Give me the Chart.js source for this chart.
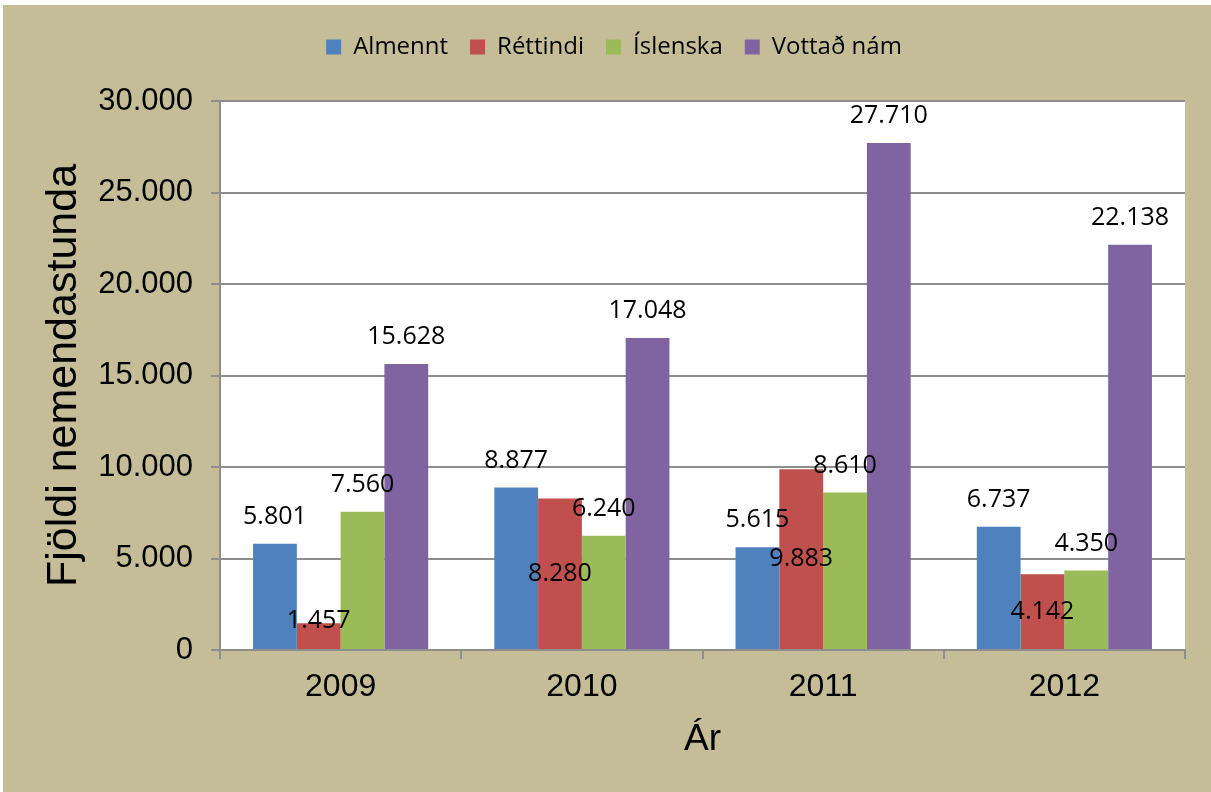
<!DOCTYPE html>
<html>
<head>
<meta charset="utf-8">
<script src="https://cdn.jsdelivr.net/npm/chart.js@4"></script>
<style>
  html, body { margin: 0; padding: 0; background: #ffffff; }
  #wrap { position: absolute; left: 3px; top: 5px; width: 1208px; height: 787px; }
  #myChart { background: #C4BD97; }
</style>
</head>
<body>
<div id="wrap"><canvas id="myChart" width="1208" height="787"></canvas></div>
<script>
var years = ['2009', '2010', '2011', '2012'];
var seriesNames = ['Almennt', 'Réttindi', 'Íslenska', 'Vottað nám'];
var almennt = [5801, 8877, 5615, 6737];
var rettindi = [1457, 8280, 9883, 4142];
var islenska = [7560, 6240, 8610, 4350];
var vottadNam = [15628, 17048, 27710, 22138];
var seriesColors = ['#4F81BD', '#C0504D', '#9BBB59', '#8064A2'];
var yTicks = [0, 5000, 10000, 15000, 20000, 25000, 30000];

// 30000 -> "30.000"
function fmt(v) {
    return String(v).replace(/\B(?=(\d{3})+(?!\d))/g, '.');
}

var ctx = document.getElementById('myChart').getContext('2d');

// white plot area
var plotBg = {
    id: 'plotBg',
    beforeDraw: function (chart) {
        var a = chart.chartArea;
        chart.ctx.save();
        chart.ctx.fillStyle = '#ffffff';
        chart.ctx.fillRect(a.left, a.top, a.right - a.left, a.bottom - a.top);
        chart.ctx.restore();
    }
};

// value labels: Réttindi in the middle of the bar, the rest above it
var valueLabels = {
    id: 'valueLabels',
    afterDatasetsDraw: function (chart) {
        var c = chart.ctx;
        c.save();
        c.font = '25px "Open Sans"';
        c.fillStyle = '#000000';
        c.textAlign = 'center';
        c.textBaseline = 'middle';
        chart.data.datasets.forEach(function (ds, i) {
            var meta = chart.getDatasetMeta(i);
            meta.data.forEach(function (bar, j) {
                var y;
                if (i === 1) {
                    y = Math.min((bar.y + bar.base) / 2, bar.base - 28);
                } else {
                    y = bar.y - 27;
                }
                c.fillText(fmt(ds.data[j]), bar.x, y);
            });
        });
        c.restore();
    }
};

var data = {
    labels: years,
    datasets: [
        { label: seriesNames[0], data: almennt, backgroundColor: seriesColors[0] },
        { label: seriesNames[1], data: rettindi, backgroundColor: seriesColors[1] },
        { label: seriesNames[2], data: islenska, backgroundColor: seriesColors[2] },
        { label: seriesNames[3], data: vottadNam, backgroundColor: seriesColors[3] }
    ]
};

var config = {
    type: 'bar',
    data: data,
    options: {
        responsive: false,
        animation: false,
        datasets: {
            bar: { barPercentage: 1, categoryPercentage: 0.726, borderWidth: 0 }
        },
        layout: { padding: { left: 40, right: 26, top: 8, bottom: 0 } },
        scales: {
            x: {
                grid: {
                    offset: true,
                    drawOnChartArea: false,
                    drawTicks: true,
                    tickLength: 9,
                    color: '#8E8E8E',
                    lineWidth: 2
                },
                border: { color: '#8E8E8E', width: 2 },
                ticks: {
                    color: '#000000',
                    font: { family: '"Liberation Sans"', size: 32 },
                    padding: 9
                },
                title: {
                    display: true,
                    text: 'Ár',
                    color: '#000000',
                    font: { family: '"Liberation Sans"', size: 37 },
                    padding: { top: 0, bottom: 30 }
                },
                afterFit: function (scale) { scale.height = 142; }
            },
            y: {
                min: 0,
                max: 30000,
                afterBuildTicks: function (scale) {
                    scale.ticks = yTicks.map(function (v) { return { value: v }; });
                },
                grid: {
                    color: '#8E8E8E',
                    lineWidth: 2,
                    tickLength: 9
                },
                border: { color: '#8E8E8E', width: 2 },
                ticks: {
                    color: '#000000',
                    font: { family: '"Liberation Sans"', size: 31 },
                    padding: 18,
                    callback: function (v) { return fmt(v); }
                },
                title: {
                    display: true,
                    text: 'Fjöldi nemendastunda',
                    color: '#000000',
                    font: { family: '"Liberation Sans"', size: 43, lineHeight: 1 },
                    padding: { top: 0, bottom: 0 }
                },
                afterFit: function (scale) { scale.width = 177; }
            }
        },
        plugins: {
            legend: {
                position: 'top',
                labels: {
                    color: '#000000',
                    font: { family: '"Open Sans"', size: 24 },
                    boxWidth: 15,
                    boxHeight: 15,
                    padding: 22
                }
            },
            // empty spacer between legend and plot
            subtitle: {
                display: true,
                text: ' ',
                weight: 500,
                font: { size: 10 },
                padding: { top: 0, bottom: 20 }
            },
            tooltip: { enabled: false }
        }
    },
    plugins: [plotBg, valueLabels]
};

new Chart(ctx, config);
</script>
</body>
</html>
